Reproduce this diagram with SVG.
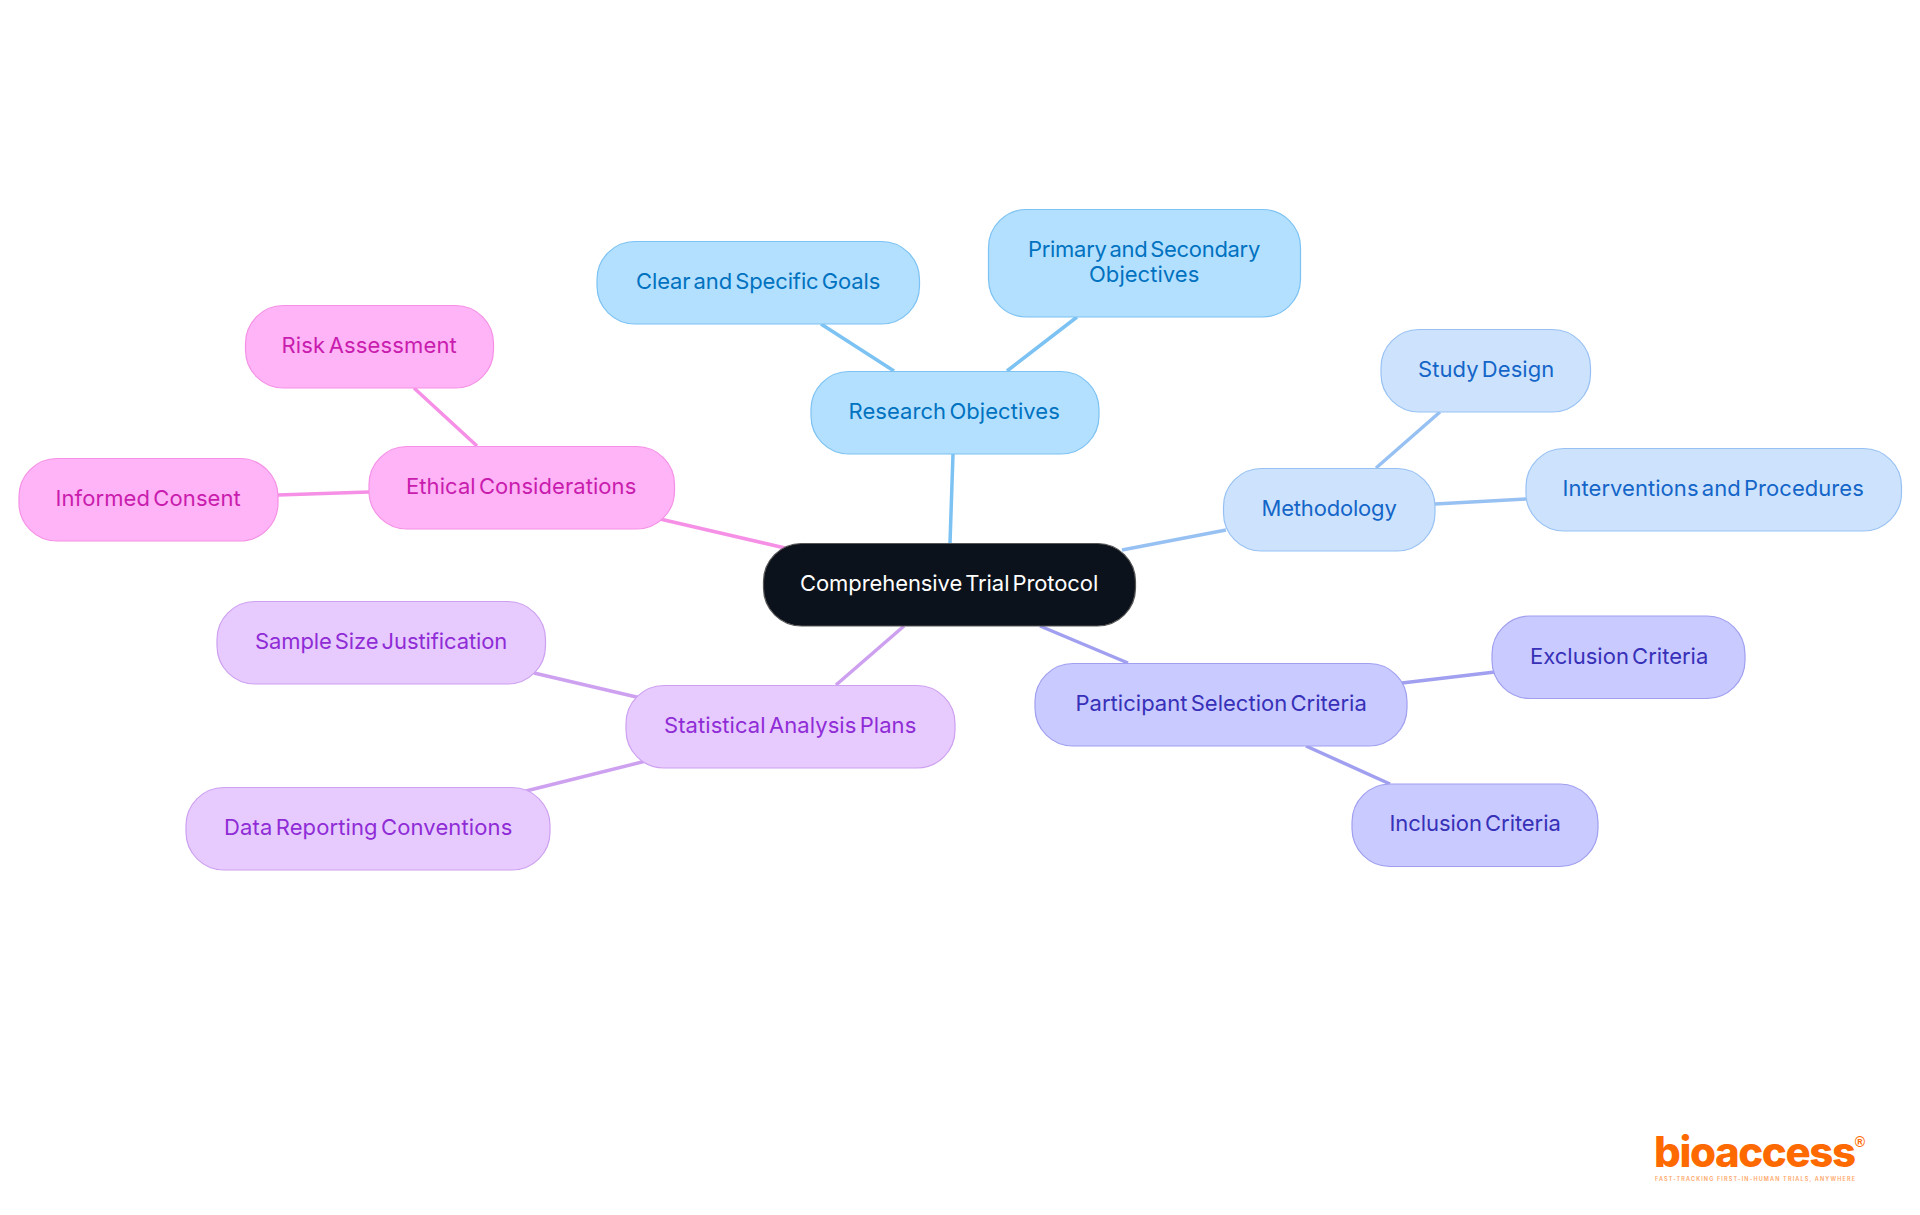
<svg xmlns="http://www.w3.org/2000/svg" width="1920" height="1215" viewBox="0 0 1920 1215">
<style>
text{font-family:Inter,"Noto Sans","Liberation Sans",sans-serif;font-size:22px;font-weight:400;text-anchor:middle;letter-spacing:-.3px;word-spacing:-3px}
rect{stroke-width:1.2}
.e{fill:none;stroke-width:3.5}
.a rect{fill:#b3e0ff;stroke:#7cc2f3}.a text{fill:#0072bf}
.b rect{fill:#cde3fd;stroke:#98c1f3}.b text{fill:#1465c8}
.c rect{fill:#c9caff;stroke:#a09ff0}.c text{fill:#3730b8}
.d rect{fill:#e7cbff;stroke:#cda0f0}.d text{fill:#8f2cd6}
.f rect{fill:#feb4f6;stroke:#f590e6}.f text{fill:#c91cae}
.l text{letter-spacing:0;word-spacing:0;fill:#ff6a00}
</style>
<rect width="1920" height="1215" fill="#fff" style="stroke:none"/>
<g id="connectors" class="e">
<path stroke="#7cc2f3" d="M950 543L953 454M894 371L821 324M1007 371L1077 317"/>
<path stroke="#98c1f3" d="M1122 550L1226 530M1376 468L1440 412M1435 504L1526 499"/>
<path stroke="#a09ff0" d="M1040 626L1128 663M1402 683L1495 672M1306 746L1390 784"/>
<path stroke="#cda0f0" d="M904 626L836 685M645 699L534 673M650 760L526 791"/>
<path stroke="#f590e6" d="M785 548L660 519M477 446L414 388M369 492L278 495"/>
</g>
<g id="root"><rect x="763.500" y="543.500" width="372" height="82.500" rx="38" fill="#0c121b" stroke="#555"/><text x="949" y="591" fill="#fff" textLength="298">Comprehensive Trial Protocol</text></g>
<g id="research" class="a"><rect x="811" y="371.500" width="288" height="82.500" rx="38"/><text x="954" y="419" textLength="211">Research Objectives</text></g>
<g id="goals" class="a"><rect x="597" y="241.500" width="322.500" height="82.500" rx="38"/><text x="758" y="289" textLength="244">Clear and Specific Goals</text></g>
<g id="primary" class="a"><rect x="988.500" y="209.500" width="312" height="107.500" rx="38"/><text x="1144" y="257" textLength="232">Primary and Secondary</text><text x="1144" y="282" textLength="110">Objectives</text></g>
<g id="methodology" class="b"><rect x="1223.500" y="468.500" width="211.500" height="82.500" rx="38"/><text x="1329" y="516" textLength="135">Methodology</text></g>
<g id="study" class="b"><rect x="1381" y="329.500" width="209.500" height="82.500" rx="38"/><text x="1486" y="377" textLength="136">Study Design</text></g>
<g id="interventions" class="b"><rect x="1526" y="448.500" width="375.500" height="82.500" rx="38"/><text x="1713" y="496" textLength="301">Interventions and Procedures</text></g>
<g id="participant" class="c"><rect x="1035" y="663.500" width="372" height="82.500" rx="38"/><text x="1221" y="711" textLength="291">Participant Selection Criteria</text></g>
<g id="exclusion" class="c"><rect x="1492" y="616" width="253" height="82.500" rx="38"/><text x="1619" y="664" textLength="178">Exclusion Criteria</text></g>
<g id="inclusion" class="c"><rect x="1352" y="784" width="246" height="82.500" rx="38"/><text x="1475" y="831" textLength="171">Inclusion Criteria</text></g>
<g id="statistical" class="d"><rect x="626" y="685.500" width="329" height="82.500" rx="38"/><text x="790" y="733" textLength="252">Statistical Analysis Plans</text></g>
<g id="sample" class="d"><rect x="217" y="601.500" width="328.500" height="82.500" rx="38"/><text x="381" y="649" textLength="252">Sample Size Justification</text></g>
<g id="data" class="d"><rect x="186" y="787.500" width="364" height="82.500" rx="38"/><text x="368" y="835" textLength="288">Data Reporting Conventions</text></g>
<g id="ethical" class="f"><rect x="369" y="446.500" width="305.500" height="82.500" rx="38"/><text x="521" y="494" textLength="230">Ethical Considerations</text></g>
<g id="risk" class="f"><rect x="245.500" y="305.500" width="248" height="82.500" rx="38"/><text x="369" y="353" textLength="175">Risk Assessment</text></g>
<g id="informed" class="f"><rect x="19" y="458.500" width="259" height="82.500" rx="38"/><text x="148" y="506" textLength="185">Informed Consent</text></g>
<g id="logo" class="l"><text x="1755" y="1167" textLength="202" style="font-size:42px;font-weight:800">bioaccess</text><text x="1755" y="1181" textLength="200" style="font-size:5.500px;font-weight:600;fill:#ffa566">FAST-TRACKING FIRST-IN-HUMAN TRIALS, ANYWHERE</text><text x="1860" y="1147" style="font-family:'Liberation Sans',sans-serif;font-size:14px;font-weight:700">®</text></g>
</svg>
